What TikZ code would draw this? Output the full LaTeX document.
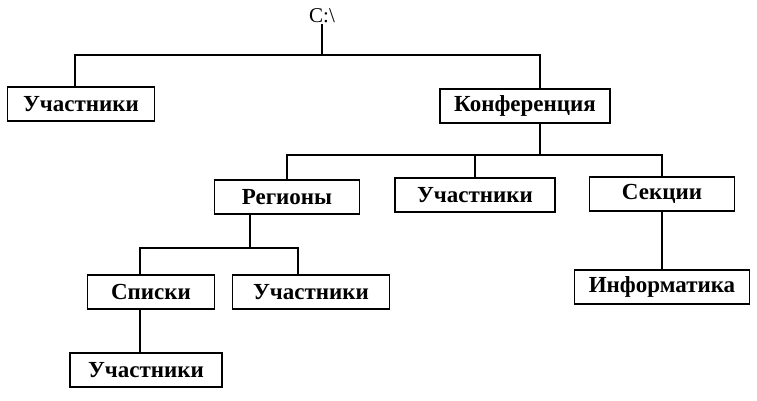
\documentclass[tikz,border=0pt]{standalone}
\usepackage{fontspec}
\setmainfont{Liberation Serif}
\begin{document}
\begin{tikzpicture}[x=1pt,y=-1pt,
  box/.style={draw,line width=1.2pt,inner sep=0pt,font=\bfseries\fontsize{23}{26}\selectfont,minimum height=34pt},
  ln/.style={line width=1.1pt}]
\useasboundingbox (0,0) rectangle (757,400);
\node[font=\fontsize{21}{24}\selectfont,inner sep=1pt] (root) at (322,16) {C:\textbackslash};
\node[box,minimum width=147pt] (u1) at (81,104) {Участники};
\node[box,minimum width=170pt] (konf) at (525,106) {Конференция};
\node[box,minimum width=145pt] (reg) at (287,197) {Регионы};
\node[box,minimum width=160pt] (u2) at (475,195) {Участники};
\node[box,minimum width=145pt] (sek) at (662,194) {Секции};
\node[box,minimum width=127pt] (spis) at (151,292) {Списки};
\node[box,minimum width=157pt] (u3) at (311,292) {Участники};
\node[box,minimum width=175pt] (inf) at (662,287) {Информатика};
\node[box,minimum width=152pt] (u4) at (146,370) {Участники};
\draw[ln] (root.south) -- (322,55) coordinate (j1);
\draw[ln] (u1.north -| 75,0) |- (j1) -| (konf.north -| 540,0);
\draw[ln] (konf.south -| 540,0) -- (540,155) coordinate (j2);
\draw[ln] (reg.north) |- (j2);
\draw[ln] (j2) -| (sek.north);
\draw[ln] (u2.north -| 475,0) -- (475,155);
\draw[ln] (reg.south -| 250,0) -- (250,248) coordinate (j3);
\draw[ln] (spis.north -| 140,0) |- (j3) -| (u3.north -| 298,0);
\draw[ln] (spis.south -| 140,0) -- (u4.north -| 140,0);
\draw[ln] (sek.south) -- (inf.north);
\end{tikzpicture}
\end{document}
